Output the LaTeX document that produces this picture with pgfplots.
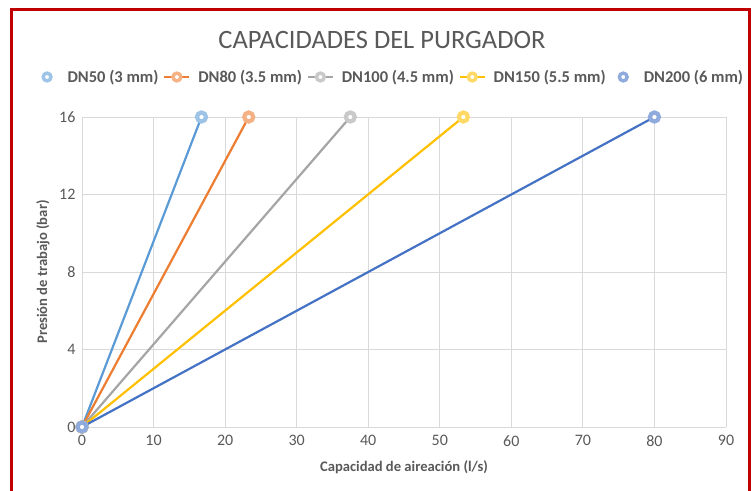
\documentclass[border=0pt]{standalone}
\usepackage{pgfplots}
\pgfplotsset{compat=1.18}
\usepackage{fontspec}
\setmainfont{Carlito}
\definecolor{cA}{RGB}{91,155,213}
\definecolor{cB}{RGB}{237,125,49}
\definecolor{cC}{RGB}{165,165,165}
\definecolor{cD}{RGB}{255,192,0}
\definecolor{cE}{RGB}{68,114,196}
\definecolor{txt}{RGB}{89,89,89}
\definecolor{grd}{RGB}{217,217,217}
\definecolor{frame}{RGB}{192,0,0}
\pgfplotsset{
  lineleg/.style={legend image code/.code={%
    \path[draw=none, fill=none] (0pt,0pt) rectangle (25pt,0pt);
    \draw[##1, mark=none, line width=1.8pt] (0pt,0pt) -- (25pt,0pt);
    \draw[##1, mark size=3.9pt, every mark/.append style={line width=3.4pt}] plot[only marks] coordinates {(12.5pt,0pt)};}},
  markonly legend/.style={legend image code/.code={%
    \path[draw=none, fill=none] (0pt,0pt) rectangle (25pt,0pt);
    \draw[##1, mark size=3.9pt, every mark/.append style={line width=3.4pt}] plot[only marks] coordinates {(12.5pt,0pt)};}}
}
\begin{document}
\begin{tikzpicture}[x=1pt,y=1pt]
\clip (-82,-63) rectangle (673,427);
\begin{axis}[
  at={(0,0)}, anchor=origin,
  scale only axis, width=644pt, height=310pt,
  xmin=0, xmax=90, ymin=0, ymax=16,
  xtick={0,10,...,90}, ytick={0,4,8,12,16},
  grid=major, major grid style={grd, line width=0.8pt},
  axis line style={draw=none},
  axis x line*=bottom, axis y line*=left,
  x axis line style={draw=grd, line width=0.8pt},
  major tick length=0pt,
  ticklabel style={font=\fontsize{16}{17}\selectfont, text=txt},
  /pgf/number format/assume math mode=true,
  xticklabel style={yshift=-5pt},
  yticklabel style={xshift=-3pt},
  xlabel={Capacidad de aireación (l/s)},
  ylabel={Presión de trabajo (bar)},
  label style={font=\fontsize{14.6}{15}\selectfont\bfseries, text=txt},
  xlabel style={at={(axis description cs:0.5,0)}, anchor=center, yshift=-40pt},
  ylabel style={at={(axis description cs:0,0.5)}, anchor=center, yshift=39pt},
  clip=false,
  legend columns=5,
  legend style={draw=none, fill=none, at={(axis description cs:0.478,1.0)}, anchor=center, yshift=40pt,
    font=\fontsize{16.5}{17}\selectfont\bfseries, text=txt,
    /tikz/every even column/.append style={column sep=3pt},
    /tikz/every odd column/.append style={column sep=6pt}},
  legend cell align=left,
]
\addplot[cA, line width=2.2pt, mark=*, mark size=4.5pt, mark options={draw=cA!60, fill=white, line width=4.2pt}, markonly legend]
  coordinates {(0,0) (16.7,16)};
\addlegendentry{DN50 (3 mm)}
\addplot[cB, line width=2.2pt, mark=*, mark size=4.5pt, mark options={draw=cB!60, fill=white, line width=4.2pt}, lineleg]
  coordinates {(0,0) (23.3,16)};
\addlegendentry{DN80 (3.5 mm)}
\addplot[cC, line width=2.2pt, mark=*, mark size=4.5pt, mark options={draw=cC!60, fill=white, line width=4.2pt}, lineleg]
  coordinates {(0,0) (37.5,16)};
\addlegendentry{DN100 (4.5 mm)}
\addplot[cD, line width=2.2pt, mark=*, mark size=4.5pt, mark options={draw=cD!60, fill=white, line width=4.2pt}, lineleg]
  coordinates {(0,0) (53.3,16)};
\addlegendentry{DN150 (5.5 mm)}
\addplot[cE, line width=2.2pt, mark=*, mark size=4.5pt, mark options={draw=cE!60, fill=white, line width=4.2pt}, markonly legend]
  coordinates {(0,0) (80,16)};
\addlegendentry{DN200 (6 mm)}
\end{axis}
\node[font=\fontsize{26.5}{28}\selectfont, text=txt] at (300,387) {CAPACIDADES DEL PURGADOR};
\draw[frame, line width=3pt] (-70,-80) -- (-70,417) -- (667,417) -- (667,-80);
\end{tikzpicture}
\end{document}
